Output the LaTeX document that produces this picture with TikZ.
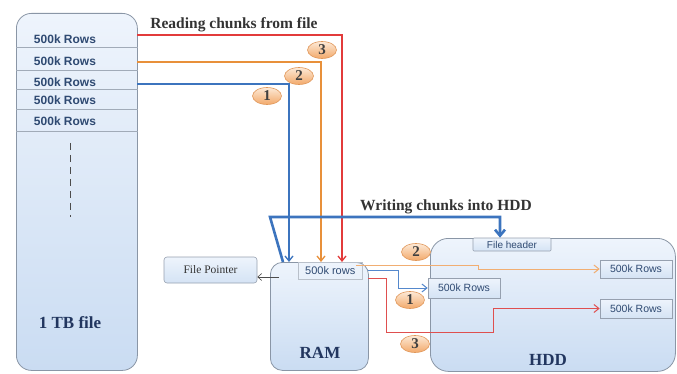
\documentclass[tikz,border=0pt]{standalone}
\usepackage{fontspec}
\setmainfont{Liberation Serif}
\setsansfont{Liberation Sans}
\usetikzlibrary{shapes.geometric,arrows.meta,calc}
\definecolor{boxtop}{HTML}{EEF4FC}
\definecolor{boxbot}{HTML}{CADCF2}
\definecolor{edge}{HTML}{8A96A6}
\definecolor{rowblue}{HTML}{2F4A72}
\definecolor{navy}{HTML}{22365F}
\definecolor{numtop}{HTML}{FDE9D6}
\definecolor{numbot}{HTML}{F2A96A}
\definecolor{numedge}{HTML}{E0975A}
\definecolor{redc}{HTML}{E23B3B}
\definecolor{orc}{HTML}{E8903A}
\definecolor{bluc}{HTML}{3C74BE}
\definecolor{wor}{HTML}{F1AE72}
\definecolor{wbl}{HTML}{5588CC}
\definecolor{wred}{HTML}{DF4F4F}
\begin{document}
\begin{tikzpicture}[x=1pt,y=-1pt,
  bigbox/.style={draw=edge, line width=0.8pt, top color=boxtop, bottom color=boxbot, anchor=north west, inner sep=0pt},
  rowtxt/.style={font=\sffamily\bfseries\fontsize{12}{12}\selectfont, text=rowblue, inner sep=1pt},
  sepline/.style={draw=edge!80, line width=0.6pt},
  num/.style={ellipse, draw=numedge, line width=0.6pt, top color=numtop, bottom color=numbot, minimum width=29pt, minimum height=17pt, inner sep=0pt, font=\bfseries\fontsize{15}{15}\selectfont, text=black!75},
  titletxt/.style={font=\bfseries\fontsize{15.5}{16}\selectfont, text=black!80},
  bigtxt/.style={font=\bfseries\fontsize{17}{17}\selectfont, text=navy},
  smallbox/.style={draw=edge!90, line width=0.6pt, top color=boxtop, bottom color=boxbot!80, inner sep=0pt, font=\sffamily\fontsize{10.5}{11}\selectfont, text=rowblue},
  tip/.style={-{Straight Barb[length=5pt,width=8pt]}},
  rd/.style={draw=redc, line width=1.3pt, tip},
  od/.style={draw=orc, line width=1.3pt, tip},
  bd/.style={draw=bluc, line width=1.3pt, tip},
  wthick/.style={draw=bluc, line width=2.6pt, -{Straight Barb[length=6pt,width=10pt]}},
  wo/.style={draw=wor, line width=1pt, tip},
  wb/.style={draw=wbl, line width=1pt, tip},
  wr/.style={draw=wred, line width=1pt, tip},
  fpa/.style={draw=black!70, line width=0.6pt, -{Straight Barb[length=4pt,width=7pt]}}
]
\useasboundingbox (0,0) rectangle (677,374);

% file box
\node[bigbox, rounded corners=15pt, minimum width=121pt, minimum height=357pt] (file) at (16,13) {};
\foreach \yy in {47,70,89,109,131} \draw[sepline] (file.west |- 0,\yy) -- (file.east |- 0,\yy);
\node[rowtxt] (row1) at (65,39) {500k Rows};
\node[rowtxt] (row2) at (65,61) {500k Rows};
\node[rowtxt] (row3) at (65,82) {500k Rows};
\node[rowtxt] (row4) at (65,100) {500k Rows};
\node[rowtxt] (row5) at (65,121) {500k Rows};
\draw[draw=black!70, line width=0.6pt, dash pattern=on 7pt off 5pt] (70,143) -- (70,217);
\node[bigtxt] (tb) at (70,323) {1 TB file};

% titles
\node[titletxt] (readt) at (234,25) {Reading chunks from file};
\node[titletxt] (writet) at (446,207) {Writing chunks into HDD};

% RAM
\node[bigbox, rounded corners=12pt, minimum width=98pt, minimum height=108pt] (ram) at (270,262) {};
\node[draw=edge!60, line width=0.5pt, anchor=north west, minimum width=64pt, minimum height=17pt, inner sep=0pt, font=\sffamily\fontsize{11}{11}\selectfont, text=rowblue] (ramrows) at (298,262) {500k rows};
\node[bigtxt] (ramt) at (320,353) {RAM};

% File pointer
\node[smallbox, rounded corners=3pt, minimum width=93pt, minimum height=26pt, font=\fontsize{11.5}{12}\selectfont, text=black!80] (fp) at (210.5,270) {File Pointer};

% HDD
\node[bigbox, rounded corners=18pt, minimum width=245pt, minimum height=133pt] (hdd) at (430,238) {};
\node[bigtxt] (hddt) at (548,360) {HDD};
\node[smallbox, rounded corners=1pt, minimum width=78pt, minimum height=13pt, font=\sffamily\fontsize{10}{10}\selectfont] (hdr) at (512,244.5) {File header};
\node[smallbox, minimum width=72pt, minimum height=20pt] (h1) at (464,288) {500k Rows};
\node[smallbox, minimum width=72pt, minimum height=18pt] (h2) at (636,269) {500k Rows};
\node[smallbox, minimum width=72pt, minimum height=19pt] (h3) at (636,308.5) {500k Rows};

% reading connectors
\coordinate (s3) at (137,35);
\coordinate (s2) at (137,62);
\coordinate (s1) at (137,84);
\coordinate (x3) at (342,0);
\coordinate (x2) at (321,0);
\coordinate (x1) at (289,0);
\draw[rd] (s3) -| (x3 |- ram.north);
\draw[od] (s2) -| (x2 |- ram.north);
\draw[bd] (s1) -| (x1 |- ram.north);
\node[num] (n3) at (322,50) {3};
\node[num] (n2) at (299,76) {2};
\node[num] (n1) at (267,96) {1};

% writing connectors
\coordinate (wb0) at (283,262);
\coordinate (wb1) at (270,217);
\coordinate (wbx) at (500,0);
\draw[wthick] (wb0) -- (wb1) -| (wbx |- hdr.north);

\coordinate (wo0) at (356,265);
\coordinate (wo1) at (478,265);
\coordinate (wo2) at (478,269);
\draw[wo] (wo0) -- (wo1) -- (wo2) -- (h2.west);

\coordinate (wl0) at (368,270);
\coordinate (wl1) at (398,270);
\draw[wb] (wl0) -- (wl1) |- (h1.west);

\coordinate (wr0) at (368,278);
\coordinate (wr1) at (386,278);
\coordinate (wr2) at (493,332);
\draw[wr] (wr0) -- (wr1) |- (wr2) |- (h3.west);

\node[num] (m2) at (416,252) {2};
\node[num] (m1) at (410,300) {1};
\node[num] (m3) at (415,344) {3};

% file pointer arrow
\coordinate (fp0) at (279,277);
\draw[fpa] (fp0) -- (fp0 -| fp.east);
\end{tikzpicture}
\end{document}
